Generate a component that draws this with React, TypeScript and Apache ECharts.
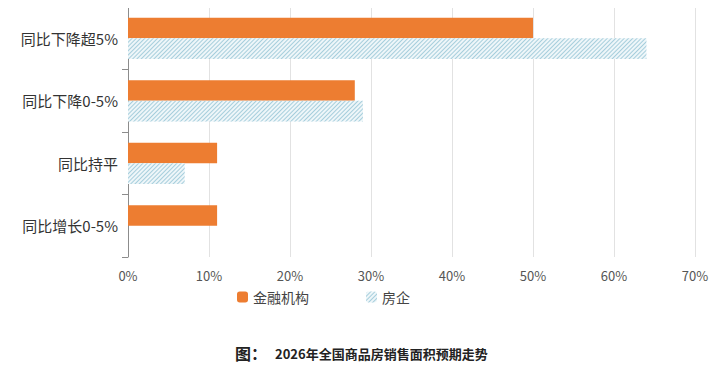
import React, { useEffect, useRef } from "react";
import * as echarts from "echarts";

const categories = ["同比下降超5%", "同比下降0-5%", "同比持平", "同比增长0-5%"];
const financeValues = [50, 28, 11, 11];
const developerValues = [64, 29, 7, 0];
const seriesNames = ["金融机构", "房企"];
const chartTitle = "2026年全国商品房销售面积预期走势";

export default function App() {
  const ref = useRef<HTMLDivElement>(null);
  useEffect(() => {
    if (!ref.current) return;
    const chart = echarts.init(ref.current, undefined, { renderer: "svg" });
    chart.setOption({
      animation: false,
      backgroundColor: "#ffffff",
      textStyle: { fontFamily: "'Noto Sans CJK SC', 'Noto Sans', sans-serif" },
      grid: { left: 128, right: 23, top: 7, bottom: 113, containLabel: false },
      legend: {
        left: 232,
        top: 285,
        itemWidth: 11,
        itemHeight: 11,
        itemGap: 57,
        textStyle: { fontSize: 14, color: "#444" },
        data: seriesNames,
      },
      xAxis: {
        type: "value",
        min: 0,
        max: 70,
        interval: 10,
        axisLabel: { formatter: "{value}%", fontSize: 13, color: "#555", margin: 12 },
        axisLine: { show: false },
        axisTick: { show: false },
        splitLine: { show: true, lineStyle: { color: "#e2e2e2", width: 1 } },
      },
      yAxis: {
        type: "category",
        inverse: true,
        data: categories,
        axisLine: { show: true, lineStyle: { color: "#8c8c8c", width: 1 } },
        axisTick: { show: true, length: 6, lineStyle: { color: "#8c8c8c" } },
        axisLabel: { fontSize: 15, color: "#333", margin: 10 },
      },
      series: [
        {
          name: seriesNames[0],
          type: "bar",
          data: financeValues,
          barGap: "0%",
          barCategoryGap: "34%",
          itemStyle: { color: "#ed7d31" },
        },
        {
          name: seriesNames[1],
          type: "bar",
          data: developerValues,
          barGap: "0%",
          barCategoryGap: "34%",
          itemStyle: {
            color: "#eef6f9",
            decal: {
              symbol: "rect",
              symbolSize: 1,
              dashArrayX: [1, 0],
              dashArrayY: [1, 1.6],
              rotation: -Math.PI / 4,
              color: "#a6cedc",
            },
          },
        },
      ],
      graphic: [
        {
          type: "text",
          left: 235,
          top: 345,
          style: {
            text: "图：",
            fill: "#222",
            font: "bold 16px 'Noto Sans CJK SC'",
          },
        },
        {
          type: "text",
          left: 275,
          top: 347,
          style: {
            text: chartTitle,
            fill: "#222",
            font: "bold 13px 'Noto Sans CJK SC'",
          },
        },
      ],
    });
    return () => chart.dispose();
  }, []);
  return <div ref={ref} style={{ width: 718, height: 370, margin: -8 }} />;
}
